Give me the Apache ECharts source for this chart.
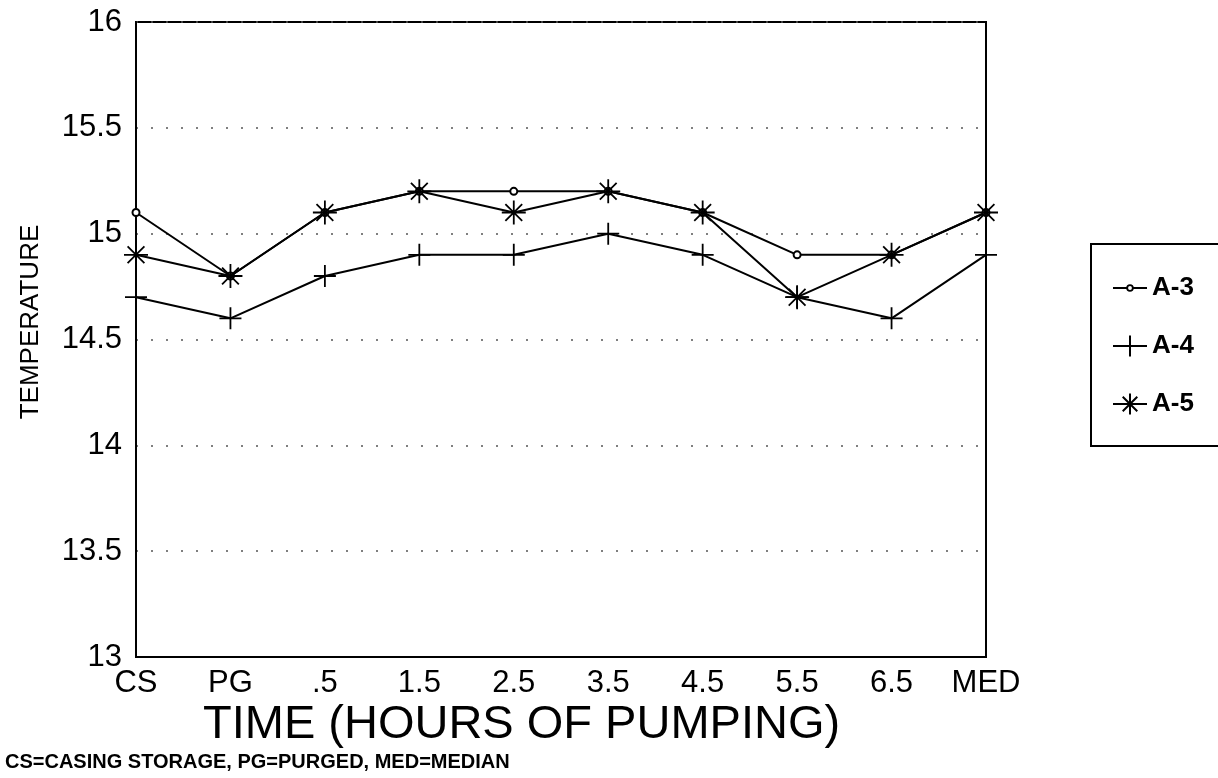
<!DOCTYPE html>
<html>
<head>
<meta charset="utf-8">
<title>Temperature vs time of pumping</title>
<script src="https://cdn.jsdelivr.net/npm/echarts@6/dist/echarts.min.js"></script>
<style>
  html, body { margin: 0; padding: 0; background: #fff; }
  #chart { width: 1218px; height: 778px; }
</style>
</head>
<body>
<div id="chart"></div>
<script>
// categories along the x axis
const timeLabels = ['CS', 'PG', '.5', '1.5', '2.5', '3.5', '4.5', '5.5', '6.5', 'MED'];
// temperature readings for each well
const a3Values = [15.1, 14.8, 15.1, 15.2, 15.2, 15.2, 15.1, 14.9, 14.9, 15.1];
const a4Values = [14.7, 14.6, 14.8, 14.9, 14.9, 15.0, 14.9, 14.7, 14.6, 14.9];
const a5Values = [14.9, 14.8, 15.1, 15.2, 15.1, 15.2, 15.1, 14.7, 14.9, 15.1];
const seriesNames = ['A-3', 'A-4', 'A-5'];

const FONT = '"Liberation Sans", Arial, Helvetica, sans-serif';

// marker shapes drawn as strokes
const plusPath = 'path://M0,10 L20,10 M10,0 L10,20';
const starPath = 'path://M0,10 L20,10 M10,0 L10,20 M3,3 L17,17 M17,3 L3,17';
// legend icon for A-3: short line with a small open circle
const circleLegendPath = 'path://M0,3 L12,3 M18,3 L30,3 M15,0.5 A2.5,2.5 0 1 0 15,5.5 A2.5,2.5 0 1 0 15,0.5 Z';

const chart = echarts.init(document.getElementById('chart'));

function lineSeries(name, data, symbol, size) {
  return {
    name: name,
    type: 'line',
    data: data,
    symbol: symbol,
    symbolSize: size,
    showAllSymbol: true,
    clip: false,
    lineStyle: { color: '#000', width: 2 },
    itemStyle: { color: '#000', borderColor: '#000', borderWidth: 1.8 },
    emphasis: { disabled: true }
  };
}

const option = {
  backgroundColor: '#fff',
  animation: false,
  textStyle: { fontFamily: FONT },
  grid: {
    left: 136, right: 232, top: 22, bottom: 121,
    show: true,
    borderColor: '#000',
    borderWidth: 2,
    outerBoundsMode: 'none'
  },
  xAxis: {
    type: 'category',
    data: timeLabels,
    boundaryGap: false,
    axisLine: { show: true, lineStyle: { color: '#000', width: 2 } },
    axisTick: { show: false },
    axisLabel: { color: '#000', fontSize: 31, margin: 11, fontFamily: FONT, interval: 0 },
    splitLine: { show: false }
  },
  yAxis: {
    type: 'value',
    min: 13,
    max: 16,
    interval: 0.5,
    axisLine: { show: true, lineStyle: { color: '#000', width: 2 } },
    axisTick: { show: false },
    axisLabel: { color: '#000', fontSize: 31, margin: 14, fontFamily: FONT },
    splitLine: { show: true, lineStyle: { color: '#555', width: 1.5, type: [2, 13] } }
  },
  legend: {
    orient: 'vertical',
    left: 1091,
    top: 244,
    data: [
      { name: 'A-3', icon: circleLegendPath, itemStyle: { color: '#fff', borderColor: '#000', borderWidth: 1.8 } },
      { name: 'A-4' },
      { name: 'A-5' }
    ],
    padding: [31, 60, 29, 21],
    itemWidth: 34,
    itemHeight: 26,
    itemGap: 32,
    borderColor: '#000',
    borderWidth: 2,
    textStyle: { color: '#000', fontSize: 26, fontWeight: 'bold', fontFamily: FONT }
  },
  graphic: [
    {
      type: 'text',
      x: 31, y: 322,
      rotation: Math.PI / 2,
      style: {
        text: 'TEMPERATURE', x: 0, y: 0,
        font: '26px ' + FONT, fill: '#000',
        textAlign: 'center', textVerticalAlign: 'middle'
      }
    },
    {
      type: 'text',
      style: {
        text: 'TIME (HOURS OF PUMPING)', x: 203, y: 725,
        font: '47px ' + FONT, fill: '#000',
        textAlign: 'left', textVerticalAlign: 'middle'
      }
    },
    {
      type: 'text',
      style: {
        text: 'CS=CASING STORAGE, PG=PURGED, MED=MEDIAN', x: 5, y: 762,
        font: 'bold 20px ' + FONT, fill: '#000',
        textAlign: 'left', textVerticalAlign: 'middle'
      }
    }
  ],
  series: [
    lineSeries('A-3', a3Values, 'emptyCircle', 7),
    lineSeries('A-4', a4Values, plusPath, 22),
    lineSeries('A-5', a5Values, starPath, 24)
  ]
};

chart.setOption(option);
</script>
</body>
</html>
